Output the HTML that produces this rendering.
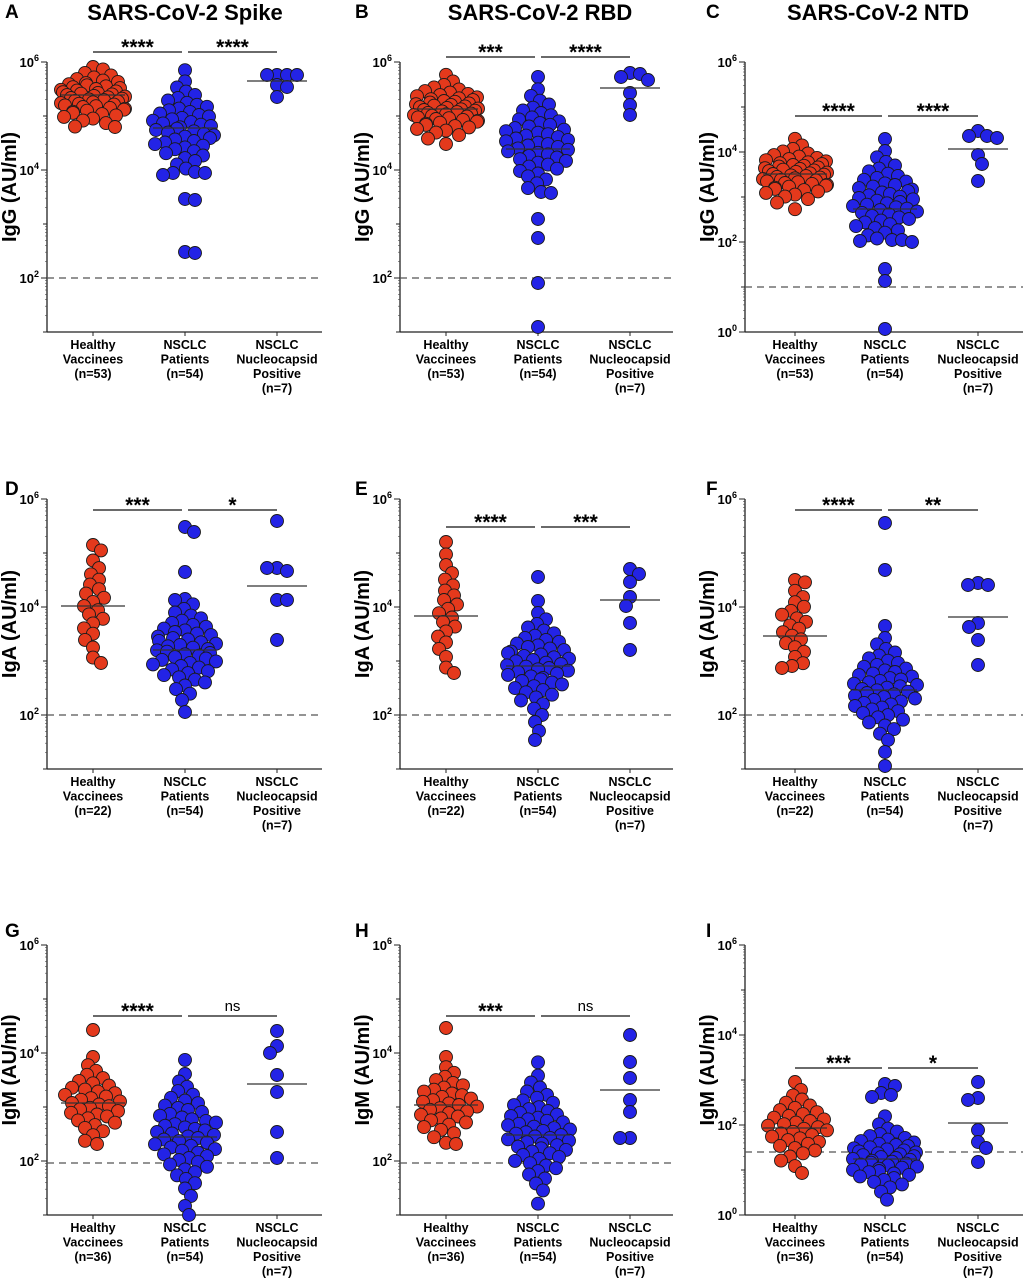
<!DOCTYPE html>
<html><head><meta charset="utf-8">
<style>
html,body{margin:0;padding:0;background:#fff;}
svg{display:block;font-family:"Liberation Sans",Arial,sans-serif;}
</style></head>
<body>
<svg id="s" width="1027" height="1280" viewBox="0 0 1027 1280" xmlns="http://www.w3.org/2000/svg"></svg>
<script>
(function(){
var S=document.getElementById('s');var out=[];
function esc(t){return t.replace(/&/g,'&amp;').replace(/</g,'&lt;');}
function erf(x){var t=1/(1+0.3275911*Math.abs(x));var y=1-(((((1.061405429*t-1.453152027)*t)+1.421413741)*t-0.284496736)*t+0.254829592)*t*Math.exp(-x*x);return x>=0?y:-y;}
function probit(p){var lo=-6,hi=6;for(var i=0;i<60;i++){var m=(lo+hi)/2;if(0.5*(1+erf(m/Math.SQRT2))<p)lo=m;else hi=m;}return (lo+hi)/2;}
function gen(g){if(g.list)return g.list.slice();var v=(g.extra||[]).slice();var k=g.n-v.length;for(var i=0;i<k;i++){var q=probit((i+0.5)/k);var y=g.mu+g.sd*q;if(y<g.lo)y=g.lo+ (i%3);if(y>g.hi)y=g.hi-(i%3);v.push(y);}return v;}
var cols=[{ax:47,c:[93,185,277],r:322,t:"SARS-CoV-2 Spike",tx:185},{ax:400,c:[446,538,630],r:673,t:"SARS-CoV-2 RBD",tx:540},{ax:745,c:[795,885,978],r:1023,t:"SARS-CoV-2 NTD",tx:878}];
var rows=[{top:62,lab:"IgG",n:"53",let:18},{top:499,lab:"IgA",n:"22",let:495},{top:945,lab:"IgM",n:"36",let:937}];
var letters=["A","B","C","D","E","F","G","H","I"];
var P=[
 {type:1,bar:52,sig:["****","****"],dash:216,g:[{n:53,mu:36,sd:15,lo:5,hi:66,med:33},{n:54,mu:66,sd:25,lo:8,hi:112,extra:[111,113,137,138,190,191],med:66},{list:[13,13,13,13,23,25,35],med:19}]},
 {type:1,bar:57,sig:["***","****"],dash:216,g:[{n:53,mu:48,sd:15,lo:10,hi:83,med:47},{n:54,mu:80,sd:28,lo:11,hi:131,extra:[157,176,221,265],med:87},{list:[11,12,15,18,31,43,53],med:26}]},
 {type:2,bar:116,sig:["****","****"],dash:225,g:[{n:53,mu:112,sd:15,lo:72,hi:151,med:112},{n:54,mu:140,sd:27,lo:76,hi:180,extra:[207,219,267],med:147},{list:[69,74,74,76,93,102,119],med:87}]},
 {type:1,bar:510,sig:["***","*"],dash:216,g:[{n:22,mu:105,sd:36,lo:46,hi:164,med:107},{n:54,mu:150,sd:27,lo:100,hi:222,extra:[28,33,73],med:151},{list:[22,69,69,72,101,101,141],med:87}]},
 {type:1,bar:527,sig:["****","***"],dash:216,g:[{n:22,mu:112,sd:38,lo:43,hi:174,med:117},{n:54,mu:165,sd:27,lo:100,hi:225,extra:[78,241,232],med:167},{list:[70,75,83,98,107,124,151],med:101}]},
 {type:1,bar:510,sig:["****","**"],dash:216,g:[{n:22,mu:128,sd:30,lo:81,hi:169,med:137},{n:54,mu:190,sd:27,lo:121,hi:255,extra:[24,71,267],med:191},{list:[84,86,86,124,128,141,166],med:118}]},
 {type:1,bar:1016,sig:["****","ns"],dash:218,g:[{n:36,mu:158,sd:22,lo:112,hi:200,extra:[85],med:158},{n:54,mu:190,sd:32,lo:105,hi:262,extra:[270],med:192},{list:[86,101,108,130,147,187,213],med:139}]},
 {type:1,bar:1016,sig:["***","ns"],dash:218,g:[{n:36,mu:160,sd:22,lo:112,hi:200,extra:[83],med:160},{n:54,mu:188,sd:30,lo:95,hi:262,med:190},{list:[90,117,133,155,167,193,193],med:145}]},
 {type:2,bar:1068,sig:["***","*"],dash:207,g:[{n:36,mu:183,sd:22,lo:137,hi:230,med:183},{n:54,mu:213,sd:18,lo:170,hi:258,extra:[139,141,148,150,152],med:214},{list:[137,153,155,185,197,203,217],med:178}]}
];
var R=6.5,MD=9.5;
for(var pi=0;pi<9;pi++){
 var ci=pi%3,ri=Math.floor(pi/3),C=cols[ci],Rw=rows[ri],p=P[pi],top=Rw.top,bot=top+270;
 var barY=p.bar;
 out.push('<text x="'+(ci==0?5:(ci==1?355:706))+'" y="'+Rw.let+'" font-size="19" font-weight="bold">'+letters[pi]+'</text>');
 if(ri==0)out.push('<text x="'+C.tx+'" y="20" font-size="22" font-weight="bold" text-anchor="middle">'+C.t+'</text>');
 out.push('<line x1="'+C.ax+'" y1="'+top+'" x2="'+C.ax+'" y2="'+bot+'" stroke="#222" stroke-width="1.3"/>');
 out.push('<line x1="'+C.ax+'" y1="'+bot+'" x2="'+C.r+'" y2="'+bot+'" stroke="#222" stroke-width="1.3"/>');
 for(var k=0;k<3;k++)out.push('<line x1="'+C.c[k]+'" y1="'+bot+'" x2="'+C.c[k]+'" y2="'+(bot+4)+'" stroke="#222"/>');
 var ppd=p.type==1?54:45,nd=p.type==1?5:6;
 for(var d=0;d<=nd;d++){var y=top+d*ppd;var e=6-d;var major=(e%2==0);
  out.push('<line x1="'+(C.ax-(major?6:4))+'" y1="'+y+'" x2="'+C.ax+'" y2="'+y+'" stroke="#222"/>');
  if(d<nd){for(var m=2;m<10;m++){var yy=y+ppd-ppd*Math.log10(m);out.push('<line x1="'+(C.ax-2)+'" y1="'+yy.toFixed(1)+'" x2="'+C.ax+'" y2="'+yy.toFixed(1)+'" stroke="#444" stroke-width="0.6"/>');}}
  if(major)out.push('<text x="'+(C.ax-8)+'" y="'+(y+5)+'" font-size="13" font-weight="bold" text-anchor="end">10<tspan dy="-6" font-size="9">'+e+'</tspan></text>');
 }
 out.push('<text transform="translate('+(C.ax-31)+','+(top+125)+') rotate(-90)" font-size="20" font-weight="bold" text-anchor="middle">'+Rw.lab+' (AU/ml)</text>');
 out.push('<line x1="'+C.ax+'" y1="'+(top+p.dash)+'" x2="'+C.r+'" y2="'+(top+p.dash)+'" stroke="#555" stroke-width="1.2" stroke-dasharray="7,5"/>');
 var L=[["Healthy","Vaccinees","(n="+Rw.n+")"],["NSCLC","Patients","(n=54)"],["NSCLC","Nucleocapsid","Positive","(n=7)"]];
 for(var k=0;k<3;k++)for(var j=0;j<L[k].length;j++)out.push('<text x="'+C.c[k]+'" y="'+(top+287+j*14.5)+'" font-size="12.5" font-weight="bold" text-anchor="middle">'+esc(L[k][j])+'</text>');
 var bx=[[C.c[0],C.c[1]-3],[C.c[1]+3,C.c[2]]];
 for(var k=0;k<2;k++){out.push('<line x1="'+bx[k][0]+'" y1="'+barY+'" x2="'+bx[k][1]+'" y2="'+barY+'" stroke="#111" stroke-width="1.2"/>');
  var mx=(bx[k][0]+bx[k][1])/2;
  if(p.sig[k]=="ns")out.push('<text x="'+mx+'" y="'+(barY-5)+'" font-size="15" text-anchor="middle">ns</text>');
  else out.push('<text x="'+mx+'" y="'+(barY+2)+'" font-size="21" font-weight="bold" text-anchor="middle">'+p.sig[k]+'</text>');}
 for(var k=0;k<3;k++){var g=p.g[k];var v=gen(g);v.sort(function(a,b){return a-b;});
  var placed=[];var col=(k==0)?"#e4391c":"#2323e6";
  for(var i=0;i<v.length;i++){var y=v[i],best=0,found=false;
   for(var o=0;o<=32&&!found;o+=1){var cands=o==0?[0]:((i%2)?[o,-o]:[-o,o]);
    for(var cc=0;cc<cands.length;cc++){var ok=true;for(var q=0;q<placed.length;q++){var dx=placed[q][0]-cands[cc],dy=placed[q][1]-y;if(dx*dx+dy*dy<MD*MD){ok=false;break;}}
     if(ok){best=cands[cc];found=true;break;}}}
   if(!found)best=(i%2?1:-1)*((i*7)%32);
   placed.push([best,y]);}
  var hw=(k==2)?30:32;
  var circ=[];for(var i=0;i<placed.length;i++)circ.push('<circle cx="'+(C.c[k]+placed[i][0]).toFixed(1)+'" cy="'+(top+placed[i][1]).toFixed(1)+'" r="'+R+'" fill="'+col+'" stroke="#1a1a1a" stroke-width="0.9"/>');
  out.push(circ.join(''));
  out.push('<line x1="'+(C.c[k]-hw)+'" y1="'+(top+g.med)+'" x2="'+(C.c[k]+hw)+'" y2="'+(top+g.med)+'" stroke="#333" stroke-width="1.3"/>');
 }
}
S.innerHTML=out.join('');
})();
</script>
</body></html>
